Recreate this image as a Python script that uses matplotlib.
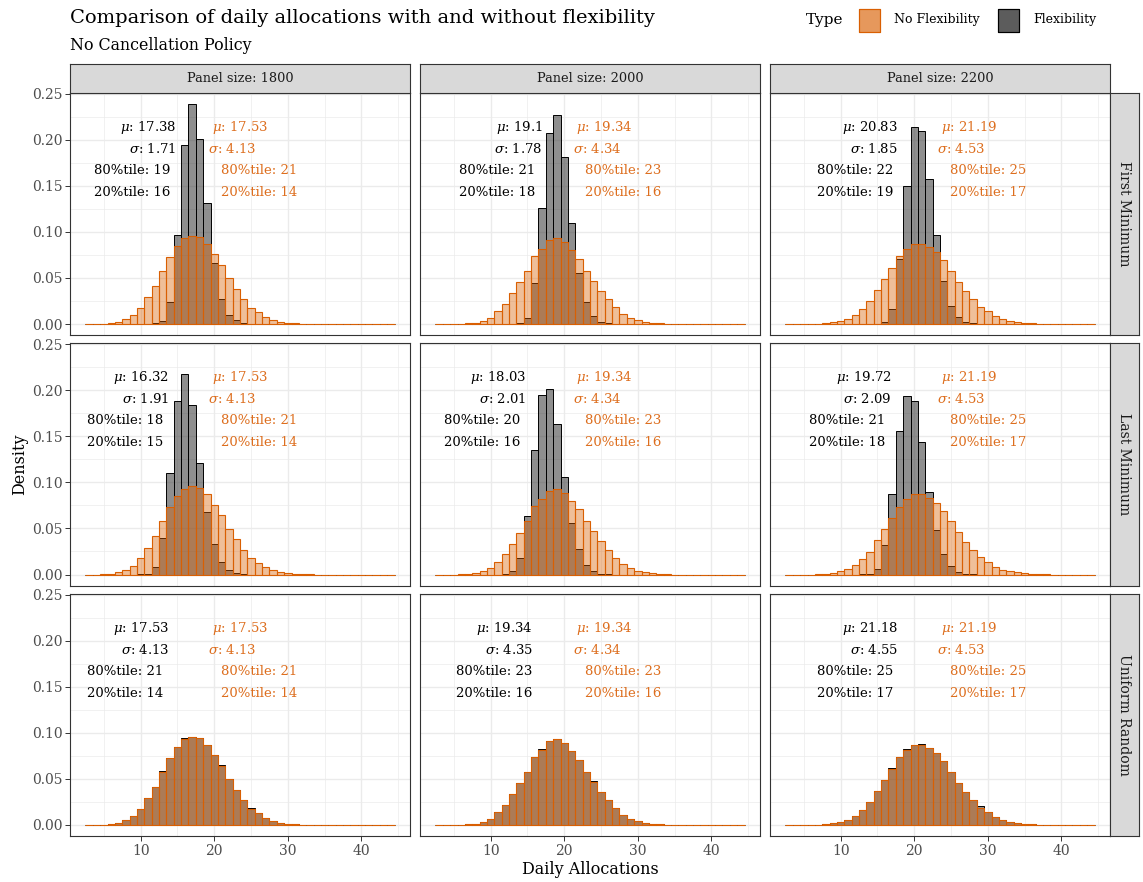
import matplotlib
matplotlib.use("Agg")
import matplotlib.pyplot as plt
from matplotlib.patches import Rectangle
from matplotlib.ticker import FormatStrFormatter

plt.rcParams["font.family"] = ["DejaVu Serif"]
plt.rcParams["mathtext.fontset"] = "dejavuserif"

# ---------------- data ----------------
allocations = list(range(3, 45))          # histogram bins (binwidth 1)
panel_sizes = [1800, 2000, 2200]
policies = ["First Minimum", "Last Minimum", "Uniform Random"]
type_labels = ["No Flexibility", "Flexibility"]

# No flexibility (same in every row of a column)
noflex_1800 = [0, 0, 0.0002, 0.0008, 0.0025, 0.005, 0.0095, 0.0175, 0.029, 0.0417,
               0.058, 0.0728, 0.085, 0.093, 0.096, 0.094, 0.087, 0.0757, 0.0645, 0.0496,
               0.0384, 0.027, 0.0178, 0.0127, 0.008, 0.0045, 0.0025, 0.0012, 0.0006, 0.0003,
               0.0001, 0, 0, 0, 0, 0, 0, 0, 0, 0, 0, 0]
noflex_2000 = [0, 0, 0, 0.0003, 0.0007, 0.0015, 0.0036, 0.007, 0.0138, 0.022,
               0.0335, 0.0455, 0.058, 0.074, 0.082, 0.091, 0.093, 0.089, 0.080, 0.071,
               0.058, 0.047, 0.036, 0.027, 0.018, 0.011, 0.0068, 0.004, 0.0022, 0.0012,
               0.0006, 0.0003, 0, 0, 0, 0, 0, 0, 0, 0, 0, 0]
noflex_2200 = [0, 0, 0, 0, 0.0003, 0.0008, 0.0018, 0.0036, 0.0058, 0.0098,
               0.0164, 0.0247, 0.037, 0.049, 0.061, 0.0735, 0.082, 0.087, 0.087, 0.0836,
               0.078, 0.069, 0.058, 0.046, 0.0356, 0.027, 0.019, 0.0138, 0.0084, 0.005,
               0.0036, 0.0022, 0.0012, 0.0006, 0.0003, 0.0001, 0, 0, 0, 0, 0, 0]

# Flexibility - First Minimum
flex_first_1800 = [0, 0, 0, 0, 0, 0, 0, 0, 0, 0.001,
                   0.003, 0.024, 0.097, 0.195, 0.239, 0.201, 0.131, 0.0665, 0.027, 0.010,
                   0.004, 0.001, 0.0005, 0, 0, 0, 0, 0, 0, 0,
                   0, 0, 0, 0, 0, 0, 0, 0, 0, 0, 0, 0]
flex_first_2000 = [0, 0, 0, 0, 0, 0, 0, 0, 0, 0,
                   0.0003, 0.001, 0.006, 0.0447, 0.1265, 0.208, 0.227, 0.181, 0.110, 0.055,
                   0.0236, 0.0084, 0.0025, 0.0008, 0.0002, 0, 0, 0, 0, 0,
                   0, 0, 0, 0, 0, 0, 0, 0, 0, 0, 0, 0]
flex_first_2200 = [0, 0, 0, 0, 0, 0, 0, 0, 0, 0,
                   0, 0, 0.0003, 0.002, 0.0164, 0.071, 0.150, 0.214, 0.210, 0.158,
                   0.097, 0.0465, 0.0196, 0.0073, 0.0025, 0.0008, 0.0002, 0, 0, 0,
                   0, 0, 0, 0, 0, 0, 0, 0, 0, 0, 0, 0]

# Flexibility - Last Minimum
flex_last_1800 = [0, 0, 0, 0, 0, 0, 0, 0.0003, 0.001, 0.008,
                  0.040, 0.110, 0.189, 0.2175, 0.184, 0.121, 0.0674, 0.0326, 0.0134, 0.0054,
                  0.0015, 0.0004, 0, 0, 0, 0, 0, 0, 0, 0,
                  0, 0, 0, 0, 0, 0, 0, 0, 0, 0, 0, 0]
flex_last_2000 = [0, 0, 0, 0, 0, 0, 0, 0, 0, 0.001,
                  0.0036, 0.018, 0.0636, 0.1356, 0.1945, 0.2018, 0.1636, 0.1055, 0.0564, 0.0273,
                  0.0102, 0.0036, 0.001, 0.0003, 0, 0, 0, 0, 0, 0,
                  0, 0, 0, 0, 0, 0, 0, 0, 0, 0, 0, 0]
flex_last_2200 = [0, 0, 0, 0, 0, 0, 0, 0, 0, 0,
                  0.0002, 0.001, 0.0065, 0.032, 0.087, 0.1556, 0.194, 0.188, 0.1436, 0.090,
                  0.048, 0.0218, 0.009, 0.003, 0.001, 0.0003, 0, 0, 0, 0,
                  0, 0, 0, 0, 0, 0, 0, 0, 0, 0, 0, 0]

# Flexibility - Uniform Random
flex_unif_1800 = [0, 0, 0.0002, 0.0008, 0.0025, 0.005, 0.0095, 0.0175, 0.029, 0.0417,
                  0.0585, 0.0728, 0.085, 0.094, 0.096, 0.0945, 0.087, 0.0757, 0.0652, 0.0496,
                  0.0384, 0.027, 0.0185, 0.0127, 0.008, 0.0045, 0.0025, 0.0012, 0.0006, 0.0003,
                  0.0001, 0, 0, 0, 0, 0, 0, 0, 0, 0, 0, 0]
flex_unif_2000 = [0, 0, 0, 0.0003, 0.0007, 0.0015, 0.0036, 0.007, 0.0138, 0.022,
                  0.0335, 0.0455, 0.058, 0.074, 0.0828, 0.091, 0.093, 0.0895, 0.080, 0.071,
                  0.058, 0.0475, 0.036, 0.027, 0.0185, 0.011, 0.0068, 0.004, 0.0022, 0.0012,
                  0.0006, 0.0003, 0, 0, 0, 0, 0, 0, 0, 0, 0, 0]
flex_unif_2200 = [0, 0, 0, 0, 0.0003, 0.0008, 0.0018, 0.0036, 0.0058, 0.0098,
                  0.0164, 0.0247, 0.037, 0.049, 0.0615, 0.0735, 0.0826, 0.087, 0.0876, 0.0836,
                  0.078, 0.069, 0.058, 0.046, 0.0356, 0.027, 0.0205, 0.0138, 0.0084, 0.005,
                  0.0036, 0.0022, 0.0012, 0.0006, 0.0003, 0.0001, 0, 0, 0, 0, 0, 0]

noflex_by_size = [noflex_1800, noflex_2000, noflex_2200]
flex_by_policy = [[flex_first_1800, flex_first_2000, flex_first_2200],
                  [flex_last_1800, flex_last_2000, flex_last_2200],
                  [flex_unif_1800, flex_unif_2000, flex_unif_2200]]

# Summary statistics shown in each panel
flex_mu = [[17.38, 19.1, 20.83], [16.32, 18.03, 19.72], [17.53, 19.34, 21.18]]
flex_sd = [[1.71, 1.78, 1.85], [1.91, 2.01, 2.09], [4.13, 4.35, 4.55]]
flex_p80 = [[19, 21, 22], [18, 20, 21], [21, 23, 25]]
flex_p20 = [[16, 18, 19], [15, 16, 18], [14, 16, 17]]
noflex_mu = [17.53, 19.34, 21.19]
noflex_sd = [4.13, 4.34, 4.53]
noflex_p80 = [21, 23, 25]
noflex_p20 = [14, 16, 17]

# ---------------- layout ----------------
W, H = 1143, 882
fig = plt.figure(figsize=(W / 100, H / 100), dpi=100)
fig.patch.set_facecolor("white")


def px_axes(x, y, w, h):
    return fig.add_axes([x / W, 1 - (y + h) / H, w / W, h / H])


ORANGE = "#D95F02"
ORANGE_TEXT = "#DD6E1E"
GRAYFILL = (0.2, 0.2, 0.2, 0.55)
ORANGEFILL = (217 / 255, 95 / 255, 2 / 255, 0.4)
col_x = [70, 420, 770]
row_y = [93, 343.5, 594]
PW, PH = 340, 242
ymax = max(max(max(s) for s in row) for row in flex_by_policy)
ylim = (-0.05 * ymax, 1.05 * ymax)

# text anchors (data coords)
gray_center = [[8.9, 10.9, 11.95], [7.9, 8.9, 10.9], [7.9, 10.45, 11.95]]
gray_right = [[14.85, 17.06, 17.8], [13.85, 14.85, 16.9], [13.85, 15.75, 17.8]]
orange_center = [26.05, 28.0, 30.0]
line_y = [0.214, 0.1905, 0.167, 0.143]
TS = 9.5

for r in range(3):
    for c in range(3):
        ax = px_axes(col_x[c], row_y[r], PW, PH)
        ax.set_xlim(0.4, 46.6)
        ax.set_ylim(*ylim)
        ax.set_xticks([10, 20, 30, 40])
        ax.set_xticks([5, 15, 25, 35, 45], minor=True)
        ax.set_yticks([0, 0.05, 0.10, 0.15, 0.20, 0.25])
        ax.set_yticks([0.025, 0.075, 0.125, 0.175, 0.225], minor=True)
        ax.yaxis.set_major_formatter(FormatStrFormatter("%.2f"))
        ax.grid(which="major", color="#EBEBEB", linewidth=1.0)
        ax.grid(which="minor", color="#EBEBEB", linewidth=0.5)
        ax.set_axisbelow(True)
        for sp in ax.spines.values():
            sp.set_color("#333333")
            sp.set_linewidth(0.8)
        ax.tick_params(which="major", length=3.5, width=0.7, color="#333333",
                       labelcolor="#4D4D4D", labelsize=10, pad=2)
        ax.tick_params(which="minor", length=0)
        if c != 0:
            ax.tick_params(axis="y", left=False, labelleft=False)
        if r != 2:
            ax.tick_params(axis="x", bottom=False, labelbottom=False)

        ax.bar(allocations, flex_by_policy[r][c], width=1.0, color=GRAYFILL,
               edgecolor="black", linewidth=0.7, zorder=2)
        ax.bar(allocations, noflex_by_size[c], width=1.0, color=ORANGEFILL,
               edgecolor=ORANGE, linewidth=0.8, zorder=3)

        # gray (flexibility) stats
        gc, gr = gray_center[r][c], gray_right[r][c]
        ax.text(gr, line_y[0], r"$\mu$: " + f"{flex_mu[r][c]:g}", ha="right", va="center",
                fontsize=TS, color="black", zorder=5)
        ax.text(gr, line_y[1], r"$\sigma$: " + f"{flex_sd[r][c]:g}", ha="right", va="center",
                fontsize=TS, color="black", zorder=5)
        ax.text(gc, line_y[2], f"80%tile: {flex_p80[r][c]}", ha="center", va="center",
                fontsize=TS, color="black", zorder=5)
        ax.text(gc, line_y[3], f"20%tile: {flex_p20[r][c]}", ha="center", va="center",
                fontsize=TS, color="black", zorder=5)
        # orange (no flexibility) stats
        oc = orange_center[c]
        ax.text(oc - 6.4, line_y[0], r"$\mu$: " + f"{noflex_mu[c]:g}", ha="left", va="center",
                fontsize=TS, color=ORANGE_TEXT, zorder=5)
        ax.text(oc - 6.85, line_y[1], r"$\sigma$: " + f"{noflex_sd[c]:g}", ha="left", va="center",
                fontsize=TS, color=ORANGE_TEXT, zorder=5)
        ax.text(oc, line_y[2], f"80%tile: {noflex_p80[c]}", ha="center", va="center",
                fontsize=TS, color=ORANGE_TEXT, zorder=5)
        ax.text(oc, line_y[3], f"20%tile: {noflex_p20[c]}", ha="center", va="center",
                fontsize=TS, color=ORANGE_TEXT, zorder=5)

# top strips
for c in range(3):
    sa = px_axes(col_x[c], 64, PW, 29)
    sa.set_facecolor("#D9D9D9")
    sa.set_xticks([]); sa.set_yticks([])
    for sp in sa.spines.values():
        sp.set_color("#333333"); sp.set_linewidth(0.8)
    sa.text(0.5, 0.5, f"Panel size: {panel_sizes[c]}", ha="center", va="center",
            fontsize=9.3, color="#1A1A1A", transform=sa.transAxes)

# right strips
for r in range(3):
    sa = px_axes(1110, row_y[r], 29, PH)
    sa.set_facecolor("#D9D9D9")
    sa.set_xticks([]); sa.set_yticks([])
    for sp in sa.spines.values():
        sp.set_color("#333333"); sp.set_linewidth(0.8)
    sa.text(0.5, 0.5, policies[r], ha="center", va="center", rotation=-90,
            fontsize=10, color="#1A1A1A", transform=sa.transAxes)

# titles and axis labels
fig.text(70 / W, 1 - 18 / H, "Comparison of daily allocations with and without flexibility",
         ha="left", va="center", fontsize=14, color="black")
fig.text(70 / W, 1 - 45 / H, "No Cancellation Policy", ha="left", va="center",
         fontsize=11.4, color="black")
fig.text(20 / W, 1 - 464 / H, "Density", ha="center", va="center", rotation=90,
         fontsize=11.5, color="black")
fig.text(590 / W, 1 - 870 / H, "Daily Allocations", ha="center", va="center",
         fontsize=11.5, color="black")

# legend
fig.text(806 / W, 1 - 20 / H, "Type", ha="left", va="center", fontsize=11, color="black")
legend_items = [(859, ORANGEFILL, ORANGE, type_labels[0], 894),
                (998, GRAYFILL, "black", type_labels[1], 1033)]
for kx, fc, ec, lab, tx in legend_items:
    for _ in range(2):
        fig.patches.append(Rectangle((kx / W, 1 - 32 / H), 21 / W, 23 / H, facecolor=fc,
                                     edgecolor=ec, linewidth=0.8, transform=fig.transFigure))
    fig.text(tx / W, 1 - 20 / H, lab, ha="left", va="center", fontsize=9, color="black")

fig.savefig("out.png", dpi=100)
